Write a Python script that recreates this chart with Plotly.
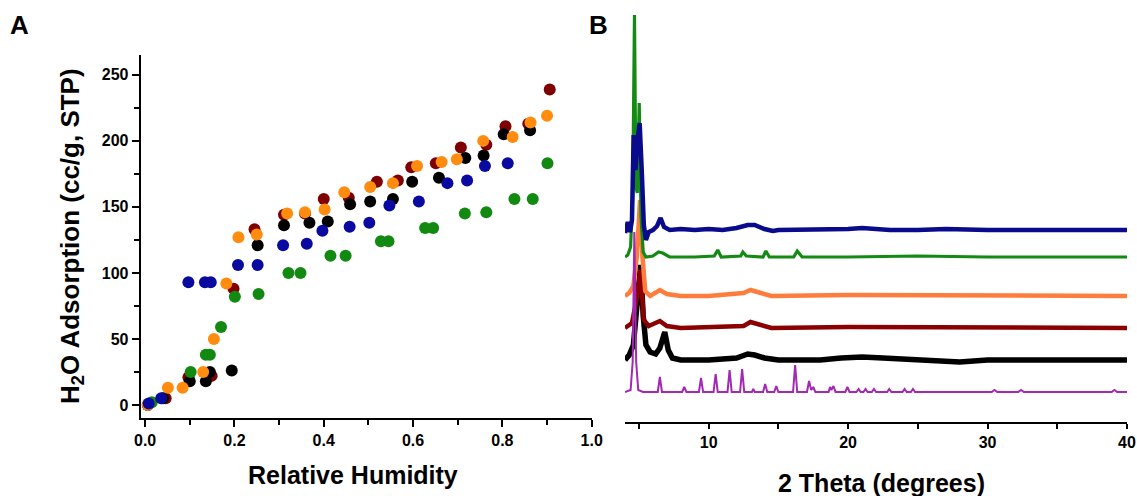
import plotly.graph_objects as go

# ---------------- Panel A: water adsorption isotherms ----------------
rh_black = [0.006, 0.04, 0.100, 0.136, 0.145, 0.194, 0.252, 0.311, 0.368, 0.409, 0.459, 0.504, 0.555, 0.598, 0.658, 0.717, 0.758, 0.803, 0.862]
ads_black = [0, 5, 18, 18, 25, 26, 121, 136, 138, 139, 152, 154, 156, 169, 172, 187, 189, 205, 208]

rh_darkred = [0.006, 0.046, 0.097, 0.149, 0.198, 0.245, 0.311, 0.358, 0.400, 0.456, 0.519, 0.566, 0.596, 0.651, 0.707, 0.764, 0.807, 0.858, 0.906]
ads_darkred = [0, 5, 21, 22, 88, 133, 144, 145, 156, 157, 169, 170, 180, 183, 195, 197, 211, 213, 239]

rh_orange = [0.006, 0.051, 0.084, 0.130, 0.154, 0.182, 0.209, 0.250, 0.318, 0.358, 0.402, 0.446, 0.504, 0.555, 0.609, 0.664, 0.698, 0.757, 0.823, 0.863, 0.900]
ads_orange = [0, 13, 13, 25, 50, 92, 127, 129, 145, 146, 148, 161, 165, 168, 181, 184, 186, 200, 203, 214, 219]

rh_blue = [0.008, 0.036, 0.097, 0.134, 0.147, 0.208, 0.252, 0.309, 0.362, 0.397, 0.458, 0.502, 0.547, 0.613, 0.677, 0.721, 0.761, 0.812]
ads_blue = [1, 5, 93, 93, 93, 106, 106, 121, 122, 132, 135, 138, 151, 154, 168, 170, 181, 183]

rh_green = [0.015, 0.102, 0.136, 0.145, 0.170, 0.201, 0.254, 0.321, 0.348, 0.415, 0.449, 0.528, 0.545, 0.627, 0.645, 0.716, 0.764, 0.827, 0.868, 0.901]
ads_green = [2, 25, 38, 38, 59, 82, 84, 100, 100, 113, 113, 124, 124, 134, 134, 145, 146, 156, 156, 183]

# tick labels
a_xticks = [0.0, 0.2, 0.4, 0.6, 0.8, 1.0]
a_xlabels = ["0.0", "0.2", "0.4", "0.6", "0.8", "1.0"]
a_yticks = [0, 50, 100, 150, 200, 250]
a_ylabels = ["0", "50", "100", "150", "200", "250"]
b_xticks = [10, 20, 30, 40]
b_xlabels = ["10", "20", "30", "40"]

# ---------------- Panel B: PXRD patterns (2 theta, intensity above baseline) ----------------
tt_blue = [4.0, 4.2, 4.35, 4.5, 4.62, 4.75, 4.9, 5.05, 5.2, 5.35, 5.5, 5.7, 6.0, 6.3, 6.55, 6.8, 7.2, 8.0, 9.0, 10.0, 11.0, 12.0, 12.8, 13.3, 14.0, 14.6, 15.0, 17.0, 20.0, 21.0, 23.0, 25.0, 27.0, 30.0, 33.0, 35.0, 38.0, 40.0]
int_blue = [-3, 8, -2, 10, 95, 60, 90, 107, 60, 5, -10, -2, 0, 4, 12, 3, 0, 1, 0, 1, 0, 2, 5, 5, 1, -1, 0, 0, 1, 2, 0, 0, 1, 0, 0, 0, 1, 0]

tt_green = [4.0, 4.2, 4.4, 4.55, 4.68, 4.78, 4.88, 5.02, 5.15, 5.3, 5.5, 6.0, 6.4, 6.7, 7.2, 9.0, 10.4, 10.65, 10.9, 12.3, 12.45, 12.7, 13.9, 14.1, 14.35, 16.1, 16.35, 16.7, 20.0, 25.0, 30.0, 40.0]
int_green = [0, 2, 10, 60, 242, 70, 64, 154, 40, 5, 0, 1, 5, 4, 0, 0, 1, 7, 0, 1, 5, 1, 0, 6, 0, 0, 6, 0, 0, 1, 0, 0]

tt_orange = [4.0, 4.3, 4.6, 4.85, 5.08, 5.25, 5.45, 5.8, 6.5, 7.0, 8.0, 10.0, 12.5, 13.0, 13.5, 14.5, 20.0, 26.0, 33.0, 40.0]
int_orange = [0, 3, 10, 40, 96, 40, 5, 0, 6, 2, 0, 0, 3, 6, 4, 0, 1, 1, 0, 0]

tt_darkred = [4.0, 4.5, 4.85, 5.1, 5.35, 5.7, 6.5, 7.0, 8.0, 12.5, 13.0, 13.5, 14.5, 20.0, 27.0, 40.0]
int_darkred = [0, 5, 30, 58, 8, 2, 7, 2, 0, 2, 6, 4, 0, 1, 1, 0]

tt_black = [4.0, 4.3, 4.6, 4.9, 5.12, 5.3, 5.5, 5.8, 6.2, 6.5, 6.85, 7.1, 7.4, 8.0, 10.0, 12.0, 12.8, 13.3, 14.0, 15.0, 18.0, 19.5, 21.0, 22.5, 24.0, 26.0, 28.0, 30.0, 35.0, 40.0]
int_black = [0, 5, 15, 60, 95, 45, 15, 8, 6, 12, 28, 10, 2, 0, 0, 2, 6, 5, 2, 0, 0, 2, 3, 2, 1, 0, -2, 0, 0, 0]

tt_magenta = [4.0, 4.4, 4.55, 4.67, 4.8, 4.95, 5.3, 6.35, 6.5, 6.65, 8.1, 8.25, 8.4, 9.3, 9.45, 9.6, 10.35, 10.5, 10.65,
              11.35, 11.5, 11.65, 12.25, 12.4, 12.55, 13.1, 13.2, 13.3, 13.9, 14.05, 14.2, 14.7, 14.85, 15.0,
              16.05, 16.2, 16.35, 17.05, 17.2, 17.35, 17.5, 17.65, 18.6, 18.7, 18.8, 18.95, 19.1, 19.8, 19.95, 20.1,
              20.6, 20.75, 20.9, 21.1, 21.25, 21.4, 21.7, 21.85, 22.0, 22.8, 22.95, 23.1, 23.9, 24.05, 24.2, 24.5, 24.65, 24.8,
              30.3, 30.5, 30.7, 32.2, 32.4, 32.6, 38.9, 39.1, 39.3, 40.0]
int_magenta = [0, 2, 30, 160, 30, 2, 0, 0, 15, 0, 0, 5, 0, 0, 14, 0, 0, 18, 0,
               0, 22, 0, 0, 23, 0, 0, 3, 0, 0, 8, 0, 0, 6, 0,
               0, 27, 0, 0, 11, 2, 5, 0, 0, 5, 2, 6, 0, 0, 5, 0,
               0, 3, 0, 0, 3, 0, 0, 3, 0, 0, 3, 0, 0, 3, 0, 0, 3, 0,
               0, 2, 0, 0, 2, 0, 0, 2, 0, 0]

# stacking offsets of the patterns (bottom to top)
offsets = {"magenta": 30, "black": 62, "darkred": 94, "orange": 126, "green": 165, "blue": 192}

FONT = "Liberation Sans, Arial, sans-serif"

fig = go.Figure()

# Panel A scatter
scatter_series = [
    (rh_darkred, ads_darkred, "#7f0000"),
    (rh_black, ads_black, "#000000"),
    (rh_orange, ads_orange, "#ff8c0f"),
    (rh_green, ads_green, "#128a12"),
    (rh_blue, ads_blue, "#0a0aa0"),
]
for xs, ys, col in scatter_series:
    fig.add_trace(go.Scatter(x=xs, y=ys, mode="markers",
                             marker=dict(size=12, color=col, line=dict(width=0)),
                             xaxis="x", yaxis="y", showlegend=False))

# Panel B lines
line_series = [
    (tt_black, int_black, offsets["black"], "#000000", 5.5),
    (tt_darkred, int_darkred, offsets["darkred"], "#8b0000", 4.5),
    (tt_orange, int_orange, offsets["orange"], "#ff7d3c", 4.5),
    (tt_magenta, int_magenta, offsets["magenta"], "#a328b3", 2.0),
    (tt_green, int_green, offsets["green"], "#138a13", 3.2),
    (tt_blue, int_blue, offsets["blue"], "#0a0a8c", 4.5),
]
for xs, ys, off, col, w in line_series:
    fig.add_trace(go.Scatter(x=xs, y=[v + off for v in ys], mode="lines",
                             line=dict(color=col, width=w),
                             xaxis="x2", yaxis="y2", showlegend=False))

tickfont = dict(family=FONT, size=16, color="black")


def bold(labels):
    return ["<b>%s</b>" % t for t in labels]


fig.update_layout(
    width=1137, height=496,
    margin=dict(l=0, r=0, t=0, b=0, autoexpand=False),
    paper_bgcolor="white", plot_bgcolor="white",
    font=dict(family=FONT),
    xaxis=dict(domain=[0.1237, 0.5204], range=[-0.01, 1.0], showgrid=False, zeroline=False, automargin=False,
               showline=True, linecolor="black", linewidth=2,
               ticks="outside", ticklen=7, tickwidth=2, tickcolor="black",
               tickmode="array", tickvals=a_xticks, ticktext=bold(a_xlabels), tickfont=tickfont,
               minor=dict(ticks="outside", ticklen=5, tickwidth=2, tickcolor="black", dtick=0.1, tick0=0, showgrid=False),
               anchor="y"),
    yaxis=dict(domain=[0.157, 0.889], range=[-10, 265], showgrid=False, zeroline=False, automargin=False,
               showline=True, linecolor="black", linewidth=2,
               ticks="outside", ticklen=7, tickwidth=2, tickcolor="black",
               tickmode="array", tickvals=a_yticks, ticktext=bold(a_ylabels), tickfont=tickfont,
               minor=dict(ticks="outside", ticklen=5, tickwidth=2, tickcolor="black", dtick=25, tick0=0, showgrid=False),
               anchor="x"),
    xaxis2=dict(domain=[0.5497, 0.9912], range=[4, 40], showgrid=False, zeroline=False, automargin=False,
                showline=True, linecolor="black", linewidth=2,
                ticks="outside", ticklen=5, tickwidth=2, tickcolor="black",
                tickmode="array", tickvals=b_xticks, ticktext=bold(b_xlabels), tickfont=tickfont,
                minor=dict(ticks="outside", ticklen=5, tickwidth=2, tickcolor="black", dtick=5, tick0=0, showgrid=False),
                anchor="y2"),
    yaxis2=dict(domain=[0.1492, 0.9798], range=[0, 412], visible=False, anchor="x2", automargin=False),
)

ann_font = dict(family=FONT, color="black")
fig.add_annotation(text="<b>Relative Humidity</b>", x=353 / 1137, y=1 - 475 / 496,
                   xref="paper", yref="paper", showarrow=False, xanchor="center", yanchor="middle",
                   font=dict(size=25, **ann_font))
fig.add_annotation(text="<b>H<sub>2</sub>O Adsorption (cc/g, STP)</b>", x=71 / 1137, y=1 - 236 / 496,
                   xref="paper", yref="paper", showarrow=False, xanchor="center", yanchor="middle",
                   textangle=-90, font=dict(size=26, **ann_font))
fig.add_annotation(text="<b>2 Theta (degrees)</b>", x=882 / 1137, y=1 - 483 / 496,
                   xref="paper", yref="paper", showarrow=False, xanchor="center", yanchor="middle",
                   font=dict(size=25, **ann_font))
fig.add_annotation(text="<b>A</b>", x=19 / 1137, y=1 - 25 / 496, xref="paper", yref="paper",
                   showarrow=False, xanchor="center", yanchor="middle", font=dict(size=26, **ann_font))
fig.add_annotation(text="<b>B</b>", x=598 / 1137, y=1 - 25 / 496, xref="paper", yref="paper",
                   showarrow=False, xanchor="center", yanchor="middle", font=dict(size=26, **ann_font))

fig.write_html("out.html")
